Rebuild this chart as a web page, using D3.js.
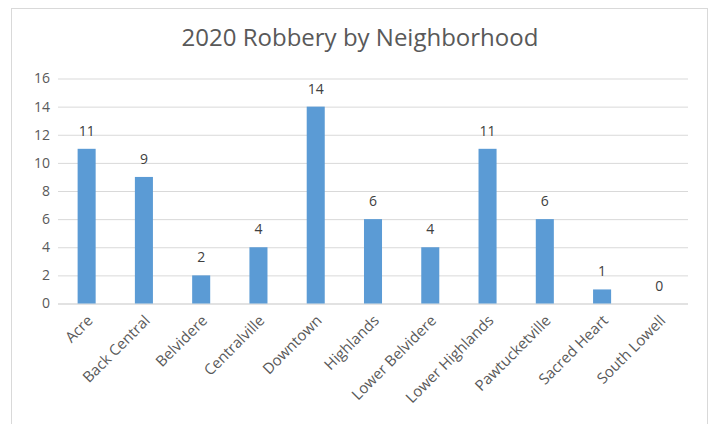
<!DOCTYPE html>
<html><head><meta charset="utf-8">
<script src="https://cdn.jsdelivr.net/npm/d3@7"></script>
<style>body{margin:0;background:#fff}svg{display:block}</style>
</head><body>
<svg id="c" width="714" height="424"></svg>
<script>
const categories = ["Acre","Back Central","Belvidere","Centralville","Downtown","Highlands","Lower Belvidere","Lower Highlands","Pawtucketville","Sacred Heart","South Lowell"];
const values = [11,9,2,4,14,6,4,11,6,1,0];
const yTicks = [0,2,4,6,8,10,12,14,16];
const title = "2020 Robbery by Neighborhood";

const svg = d3.select("#c");
const font = "'Open Sans', sans-serif";
svg.append("rect").attr("x",11.5).attr("y",8.5).attr("width",696).attr("height",420)
  .attr("fill","#fff").attr("stroke","#d9d9d9");

const m = {left:58, right:688, top:78.5, bottom:303.5};
const x = d3.scaleBand().domain(categories).range([m.left,m.right]).paddingInner(0.685).paddingOuter(0.3425);
const y = d3.scaleLinear().domain([0,16]).range([m.bottom,m.top]);

svg.append("text").attr("x",360).attr("y",46).attr("text-anchor","middle")
  .attr("font-family",font).attr("font-size",24).attr("fill","#595959").text(title);

const grid = svg.append("g")
  .call(d3.axisLeft(y).tickValues(yTicks).tickSize(-(m.right-m.left)).tickFormat(d3.format("d")))
  .attr("transform",`translate(${m.left},0)`);
grid.select(".domain").remove();
grid.selectAll(".tick line").attr("stroke","#d9d9d9").attr("stroke-width",d=>d===0?1.5:1);
grid.selectAll(".tick text").attr("x",-8).attr("font-family",font).attr("font-size",14).attr("fill","#595959");

svg.append("g").selectAll("rect").data(values).join("rect")
  .attr("x",(d,i)=>x(categories[i])).attr("width",x.bandwidth())
  .attr("y",d=>y(d)).attr("height",d=>y(0)-y(d)).attr("fill","#5b9bd5");

svg.append("g").selectAll("text").data(values).join("text")
  .attr("x",(d,i)=>x(categories[i])+x.bandwidth()/2).attr("y",d=>y(d)-13)
  .attr("text-anchor","middle").attr("font-family",font).attr("font-size",14).attr("fill","#404040").text(d=>d);

const xa = svg.append("g").attr("transform",`translate(0,${m.bottom})`)
  .call(d3.axisBottom(x).tickSize(0));
xa.select(".domain").remove();
xa.selectAll(".tick text").attr("font-family",font).attr("font-size",15).attr("fill","#595959")
  .attr("text-anchor","end").attr("dy",0).attr("y",0)
  .attr("transform","translate(7,18) rotate(-45)");
</script>
</body></html>
